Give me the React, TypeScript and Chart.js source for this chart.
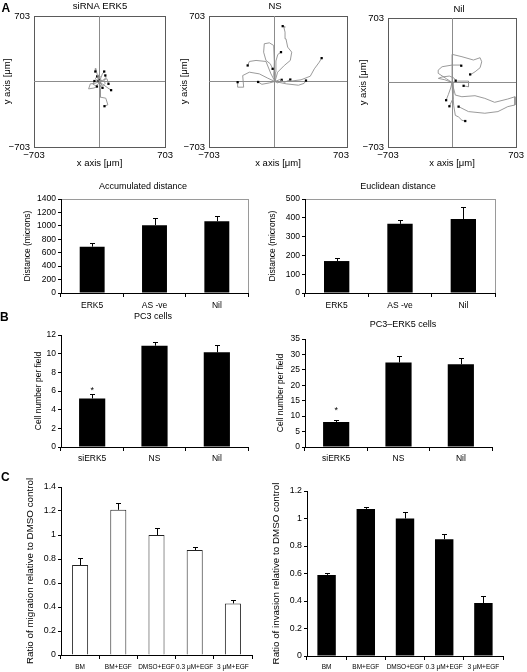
import React, { useEffect, useRef } from 'react';
import { Chart, registerables } from 'chart.js';

Chart.register(...registerables);

const FONT = "'Liberation Sans', Arial, Helvetica, sans-serif";
const f = (size: number) => ({ family: FONT, size, lineHeight: 1.2 });

// ---------- Panel A: cell trajectories (micrometres) ----------
const trajTicks = [-703, 0, 703];

const si1 = [[0, 0], [-15, 40], [-30, 95], [-40, 140], [-45, 107]];
const si2 = [[0, 0], [15, 40], [30, 80], [50, 107]];
const si3 = [[0, 0], [40, 15], [80, 30], [96, -25]];
const si4 = [[0, 0], [35, -30], [90, -70], [124, -93]];
const si5 = [[0, 0], [7, -79], [7, -168], [67, -179], [89, -250], [53, -265]];
const si6 = [[0, 0], [-50, -20], [-99, -25], [-117, -79], [-60, -70], [-28, -54]];
const si7 = [[0, 0], [20, -30], [5, -50], [32, -68]];
const si8 = [[0, 0], [-20, 30], [10, 50], [-10, 70], [-25, 55]];
const si9 = [[0, 0], [25, 15], [-15, -15], [15, -20], [-5, 15]];
const si10 = [[0, 0], [-30, 10], [-45, 35], [-20, 60], [5, 30], [-10, 5]];
const si11 = [[0, 0], [30, -50], [60, -20], [45, 20], [70, 40], [62, 65]];
const si12 = [[0, 0], [-10, -25], [-40, -45], [-70, -30], [-55, 5]];
const siTracks = [si1, si2, si3, si4, si5, si6, si7, si8, si9, si10, si11, si12];

const ns1 = [[0, 0], [28, 100], [99, 172], [163, 226], [178, 315], [135, 369], [117, 458], [107, 530], [95, 580], [110, 585], [82, 594]];
const ns2 = [[0, 0], [-14, 64], [-7, 208], [-14, 387], [-60, 415], [-114, 405], [-121, 315], [-96, 226], [-50, 190], [-25, 136]];
const ns3 = [[0, 0], [5, 100], [10, 220], [30, 290], [64, 315]];
const ns4 = [[0, 0], [-43, 82], [-96, 215], [-202, 226], [-273, 215], [-291, 172]];
const ns5 = [[0, 0], [-78, 36], [-167, 82], [-273, 100], [-344, 64], [-334, -61], [-398, -61], [-398, -7]];
const ns6 = [[0, 0], [135, 0], [277, 18], [376, 57], [419, 136], [472, 208], [497, 251]];
const ns7 = [[0, 0], [120, -25], [250, -40], [310, -20], [330, 10]];
const ns8 = [[0, 0], [50, 20], [100, -10], [163, 21]];
const ns9 = [[0, 0], [30, -15], [71, 18]];
const ns10 = [[0, 0], [-60, -15], [-140, -30], [-180, -5]];
const nsTracks = [ns1, ns2, ns3, ns4, ns5, ns6, ns7, ns8, ns9, ns10];

const nil1 = [[0, 0], [0, 307], [109, 281], [235, 245], [308, 270], [326, 226], [308, 161], [253, 117], [206, 88], [199, 88]];
const nil2 = [[0, 0], [-60, 40], [-152, 100], [-152, 135], [-109, 172], [0, 190], [91, 190], [101, 183]];
const nil3 = [[0, 0], [-80, 30], [-150, 45], [-110, 60], [-30, 70], [20, 50], [40, 20]];
const nil4 = [[0, 0], [60, 15], [181, 15], [181, -47], [127, -36]];
const nil5 = [[0, 0], [-15, -60], [-40, -130], [-65, -193]];
const nil6 = [[0, 0], [10, -80], [5, -180], [-29, -259]];
const nil7 = [[0, 0], [10, -120], [18, -248], [36, -358], [72, -376], [109, -412], [145, -420]];
const nil8 = [[0, 0], [36, -137], [108, -155], [252, -144], [360, -173], [468, -216], [612, -180], [691, -155], [691, -245], [612, -263], [504, -317], [360, -335], [180, -317], [72, -263]];
const nilTracks = [nil1, nil2, nil3, nil4, nil5, nil6, nil7, nil8];

// ---------- Panel A: distances ----------
const distCats = ['ERK5', 'AS -ve', 'Nil'];
const accVals = [690, 1010, 1070];
const accErr = [60, 100, 70];
const accTicks = { max: 1400, step: 200 };
const eucVals = [170, 368, 393];
const eucErr = [15, 22, 65];
const eucTicks = { max: 500, step: 100 };

// ---------- Panel B ----------
const bCats = ['siERK5', 'NS', 'Nil'];
const pc3Vals = [5.2, 10.85, 10.15];
const pc3Err = [0.5, 0.45, 0.8];
const pc3Stars = [6.3, null, null];
const pc3Ticks = { max: 12, step: 2 };
const pc3eVals = [8.1, 27.4, 26.8];
const pc3eErr = [0.5, 2.1, 2.2];
const pc3eStars = [12.6, null, null];
const pc3eTicks = { max: 35, step: 5 };

// ---------- Panel C ----------
const cCats = ['BM', 'BM+EGF', 'DMSO+EGF', '0.3 \u03bcM+EGF', '3 \u03bcM+EGF'];
const migVals = [0.75, 1.21, 1.0, 0.875, 0.43];
const migErr = [0.055, 0.053, 0.055, 0.025, 0.025];
const migTicks = { max: 1.4, step: 0.2 };
const invVals = [0.59, 1.07, 1.0, 0.85, 0.385];
const invErr = [0.015, 0.013, 0.048, 0.038, 0.055];
const invTicks = { max: 1.2, step: 0.2 };

type Geo = { L: number; T: number; R: number; B: number; yw: number; th: number; xh: number; rp: number };

function boxOf(g: Geo) {
  return {
    left: g.L - g.yw,
    top: g.T - g.th,
    width: g.yw + (g.R - g.L) + g.rp,
    height: g.th + (g.B - g.T) + g.xh,
  };
}

function framePlugin(color: string) {
  return {
    id: 'frame',
    beforeDraw(chart: any) {
      const { ctx, chartArea: a } = chart;
      ctx.save();
      ctx.strokeStyle = color;
      ctx.lineWidth = 1;
      ctx.strokeRect(Math.round(a.left) + 0.5, Math.round(a.top) + 0.5, Math.round(a.right - a.left), Math.round(a.bottom - a.top));
      ctx.restore();
    },
  };
}

function titlePlugin(text: string, x: number, y: number, size: number) {
  return {
    id: 'ptitle',
    afterDraw(chart: any) {
      const ctx = chart.ctx;
      ctx.save();
      ctx.font = `${size}px ${FONT}`;
      ctx.fillStyle = '#000';
      ctx.textAlign = 'center';
      ctx.textBaseline = 'middle';
      ctx.fillText(text, x, y);
      ctx.restore();
    },
  };
}

function errPlugin(values: number[], errors: number[], stars: (number | null)[] | null) {
  return {
    id: 'errbars',
    afterDatasetsDraw(chart: any) {
      const ctx = chart.ctx;
      const ys = chart.scales.y;
      const meta = chart.getDatasetMeta(0);
      ctx.save();
      ctx.strokeStyle = '#000';
      ctx.lineWidth = 1;
      meta.data.forEach((el: any, i: number) => {
        const x = Math.round(el.x) + 0.5;
        const yv = ys.getPixelForValue(values[i]);
        const yt = Math.round(ys.getPixelForValue(values[i] + errors[i])) + 0.5;
        ctx.beginPath();
        ctx.moveTo(x, yv);
        ctx.lineTo(x, yt);
        ctx.moveTo(x - 2.5, yt);
        ctx.lineTo(x + 2.5, yt);
        ctx.stroke();
        if (stars && stars[i] != null) {
          ctx.fillStyle = '#000';
          ctx.font = `9px ${FONT}`;
          ctx.textAlign = 'center';
          ctx.textBaseline = 'middle';
          ctx.fillText('*', el.x, ys.getPixelForValue(stars[i] as number) + 2);
        }
      });
      ctx.restore();
    },
  };
}

const baseOpts = {
  responsive: false,
  animation: false,
  events: [],
  plugins: { legend: { display: false }, tooltip: { enabled: false } },
};

function trajConfig(tracks: number[][][], g: Geo, xMax: number, title: string, tx: number, ty: number, yPad: number) {
  const b = boxOf(g);
  const tickCb = (v: any) => (v === 0 ? '' : v < 0 ? '\u2212' + Math.abs(v) : String(v));
  const gridColor = (c: any) => (c.tick && c.tick.value === 0 ? '#8c8c8c' : 'rgba(0,0,0,0)');
  const setTicks = (s: any) => {
    s.ticks = trajTicks.map((v) => ({ value: v }));
  };
  return {
    type: 'scatter',
    data: {
      datasets: tracks.map((t) => ({
        data: t.map(([x, y]) => ({ x, y })),
        showLine: true,
        borderColor: '#8f8f8f',
        borderWidth: 0.9,
        tension: 0,
        pointStyle: 'rect',
        pointRadius: (c: any) => (c.dataIndex === t.length - 1 ? 1.6 : 0),
        pointBackgroundColor: '#000',
        pointBorderColor: '#000',
        pointBorderWidth: 0,
      })),
    },
    options: {
      ...baseOpts,
      layout: { padding: { left: 0, top: g.th, right: g.rp, bottom: 0 } },
      scales: {
        x: {
          type: 'linear',
          min: -703,
          max: xMax,
          afterBuildTicks: setTicks,
          afterFit: (s: any) => {
            s.height = g.xh;
          },
          grid: { color: gridColor, drawTicks: false, lineWidth: 1 },
          border: { display: false },
          ticks: { callback: tickCb, font: f(9.5), color: '#000', padding: 3, maxRotation: 0, autoSkip: false },
          title: { display: true, text: 'x axis [\u03bcm]', font: f(9.5), color: '#000', padding: { top: 0, bottom: 2.8 } },
        },
        y: {
          type: 'linear',
          min: -703,
          max: 703,
          afterBuildTicks: setTicks,
          afterFit: (s: any) => {
            s.width = g.yw;
          },
          grid: { color: gridColor, drawTicks: false, lineWidth: 1 },
          border: { display: false },
          ticks: { callback: tickCb, font: f(9.5), color: '#000', padding: 4, autoSkip: false },
          title: { display: true, text: 'y axis [\u03bcm]', font: f(9.5), color: '#000', padding: { top: yPad, bottom: 0 } },
        },
      },
    },
    plugins: [framePlugin('#5a5a5a'), titlePlugin(title, tx - b.left, ty - b.top, 9.5)],
  };
}

type BarP = {
  g: Geo;
  labels: string[];
  values: number[];
  errors: number[];
  stars?: (number | null)[];
  ticks: { max: number; step: number };
  yTitle: string;
  yTitleSize: number;
  yPad: number;
  tickSize: number;
  xSize: number;
  xPad: number;
  fill: string;
  stroke: string;
  barPct: number;
  frame?: string;
  title?: string;
  tx?: number;
  ty?: number;
  titleSize?: number;
};

function barConfig(p: BarP) {
  const g = p.g;
  const b = boxOf(g);
  const plugins: any[] = [];
  if (p.frame) plugins.push(framePlugin(p.frame));
  plugins.push(errPlugin(p.values, p.errors, p.stars || null));
  if (p.title) plugins.push(titlePlugin(p.title, (p.tx as number) - b.left, (p.ty as number) - b.top, p.titleSize || 9));
  return {
    type: 'bar',
    data: {
      labels: p.labels,
      datasets: [
        {
          data: p.values,
          backgroundColor: p.fill,
          borderColor: p.stroke,
          borderWidth: p.fill === '#000' ? 0 : 1,
          barPercentage: p.barPct,
          categoryPercentage: 1,
        },
      ],
    },
    options: {
      ...baseOpts,
      layout: { padding: { left: 0, top: g.th, right: g.rp, bottom: 0 } },
      scales: {
        x: {
          afterFit: (s: any) => {
            s.height = g.xh;
          },
          ticks: { font: f(p.xSize), color: '#000', padding: p.xPad, maxRotation: 0, minRotation: 0, autoSkip: false },
          grid: { display: true, drawOnChartArea: false, drawTicks: true, tickLength: 4, color: '#000', offset: true },
          border: { display: true, color: '#000', width: 1 },
        },
        y: {
          min: 0,
          max: p.ticks.max,
          afterFit: (s: any) => {
            s.width = g.yw;
          },
          ticks: {
            stepSize: p.ticks.step,
            font: f(p.tickSize),
            color: '#000',
            padding: 2,
            callback: (v: any) => String(Math.round(Number(v) * 10) / 10),
          },
          grid: { display: true, drawOnChartArea: false, drawTicks: true, tickLength: 3, color: '#000' },
          border: { display: true, color: '#000', width: 1 },
          title: { display: true, text: p.yTitle, font: f(p.yTitleSize), color: '#000', padding: { top: p.yPad, bottom: 0 } },
        },
      },
    },
    plugins,
  };
}

function ChartBox({ g, build }: { g: Geo; build: () => any }) {
  const ref = useRef<HTMLCanvasElement>(null);
  const b = boxOf(g);
  useEffect(() => {
    const chart = new Chart(ref.current as HTMLCanvasElement, build());
    return () => chart.destroy();
  }, []);
  return (
    <div style={{ position: 'absolute', left: b.left, top: b.top, width: b.width, height: b.height }}>
      <canvas ref={ref} width={b.width} height={b.height} style={{ display: 'block', width: b.width, height: b.height }} />
    </div>
  );
}

// geometry (page pixels)
const gT1: Geo = { L: 34, T: 16, R: 166, B: 147, yw: 34, th: 16, xh: 25, rp: 10 };
const gT2: Geo = { L: 209, T: 16, R: 347, B: 147, yw: 34, th: 16, xh: 25, rp: 10 };
const gT3: Geo = { L: 388, T: 18, R: 518, B: 147, yw: 34, th: 16, xh: 25, rp: 9 };
const gAcc: Geo = { L: 61, T: 199, R: 248, B: 293, yw: 48, th: 20, xh: 20, rp: 6 };
const gEuc: Geo = { L: 305, T: 199, R: 495, B: 293, yw: 45, th: 20, xh: 20, rp: 6 };
const gPc3: Geo = { L: 61, T: 335, R: 248, B: 447, yw: 48, th: 35, xh: 20, rp: 6 };
const gPc3e: Geo = { L: 305, T: 339, R: 492, B: 447, yw: 45, th: 39, xh: 20, rp: 6 };
const gMig: Geo = { L: 61, T: 487, R: 252, B: 655, yw: 48, th: 10, xh: 17, rp: 6 };
const gInv: Geo = { L: 307, T: 491, R: 503, B: 656, yw: 47, th: 14, xh: 16, rp: 8 };

const letter = (t: string, left: number, top: number) => (
  <div
    style={{
      position: 'absolute',
      left,
      top,
      font: `bold 12px ${FONT}`,
      lineHeight: '12px',
      color: '#000',
    }}
  >
    {t}
  </div>
);

export default function App() {
  return (
    <div style={{ position: 'absolute', left: 0, top: 0, width: 527, height: 672, overflow: 'hidden', background: '#fff' }}>
      <ChartBox g={gT1} build={() => trajConfig(siTracks, gT1, 703, 'siRNA ERK5', 100, 6.5, 1.3)} />
      <ChartBox g={gT2} build={() => trajConfig(nsTracks, gT2, 767, 'NS', 275, 6, 4)} />
      <ChartBox g={gT3} build={() => trajConfig(nilTracks, gT3, 703, 'Nil', 459, 9, 3.3)} />
      <ChartBox
        g={gAcc}
        build={() =>
          barConfig({
            g: gAcc, labels: distCats, values: accVals, errors: accErr, ticks: accTicks,
            yTitle: 'Distance (microns)', yTitleSize: 8.5, yPad: 9.9, tickSize: 8.5, xSize: 8.5, xPad: 4,
            fill: '#000', stroke: '#000', barPct: 0.4, frame: '#9a9a9a',
            title: 'Accumulated distance', tx: 143, ty: 187, titleSize: 9,
          })
        }
      />
      <ChartBox
        g={gEuc}
        build={() =>
          barConfig({
            g: gEuc, labels: distCats, values: eucVals, errors: eucErr, ticks: eucTicks,
            yTitle: 'Distance (microns)', yTitleSize: 8.5, yPad: 7.9, tickSize: 8.5, xSize: 8.5, xPad: 4,
            fill: '#000', stroke: '#000', barPct: 0.4, frame: '#9a9a9a',
            title: 'Euclidean distance', tx: 398, ty: 187, titleSize: 9,
          })
        }
      />
      <ChartBox
        g={gPc3}
        build={() =>
          barConfig({
            g: gPc3, labels: bCats, values: pc3Vals, errors: pc3Err, stars: pc3Stars, ticks: pc3Ticks,
            yTitle: 'Cell number per field', yTitleSize: 8.5, yPad: 20.9, tickSize: 8.5, xSize: 8.5, xPad: 3,
            fill: '#000', stroke: '#000', barPct: 0.42,
            title: 'PC3 cells', tx: 153, ty: 317, titleSize: 9,
          })
        }
      />
      <ChartBox
        g={gPc3e}
        build={() =>
          barConfig({
            g: gPc3e, labels: bCats, values: pc3eVals, errors: pc3eErr, stars: pc3eStars, ticks: pc3eTicks,
            yTitle: 'Cell number per field', yTitleSize: 8.5, yPad: 15.4, tickSize: 8.5, xSize: 8.5, xPad: 3,
            fill: '#000', stroke: '#000', barPct: 0.42,
            title: 'PC3\u2013ERK5 cells', tx: 403, ty: 325, titleSize: 9,
          })
        }
      />
      <ChartBox
        g={gMig}
        build={() =>
          barConfig({
            g: gMig, labels: cCats, values: migVals, errors: migErr, ticks: migTicks,
            yTitle: 'Ratio of migration relative to DMSO control', yTitleSize: 9.8, yPad: 11.5, tickSize: 8.8, xSize: 6.5, xPad: 4,
            fill: '#fff', stroke: '#222', barPct: 0.42,
          })
        }
      />
      <ChartBox
        g={gInv}
        build={() =>
          barConfig({
            g: gInv, labels: cCats, values: invVals, errors: invErr, ticks: invTicks,
            yTitle: 'Ratio of invasion relative to DMSO control', yTitleSize: 9.8, yPad: 10.7, tickSize: 8.8, xSize: 6.5, xPad: 3,
            fill: '#000', stroke: '#000', barPct: 0.47,
          })
        }
      />
      {letter('A', 1.5, 2)}
      {letter('B', 0, 311)}
      {letter('C', 1, 471)}
    </div>
  );
}
